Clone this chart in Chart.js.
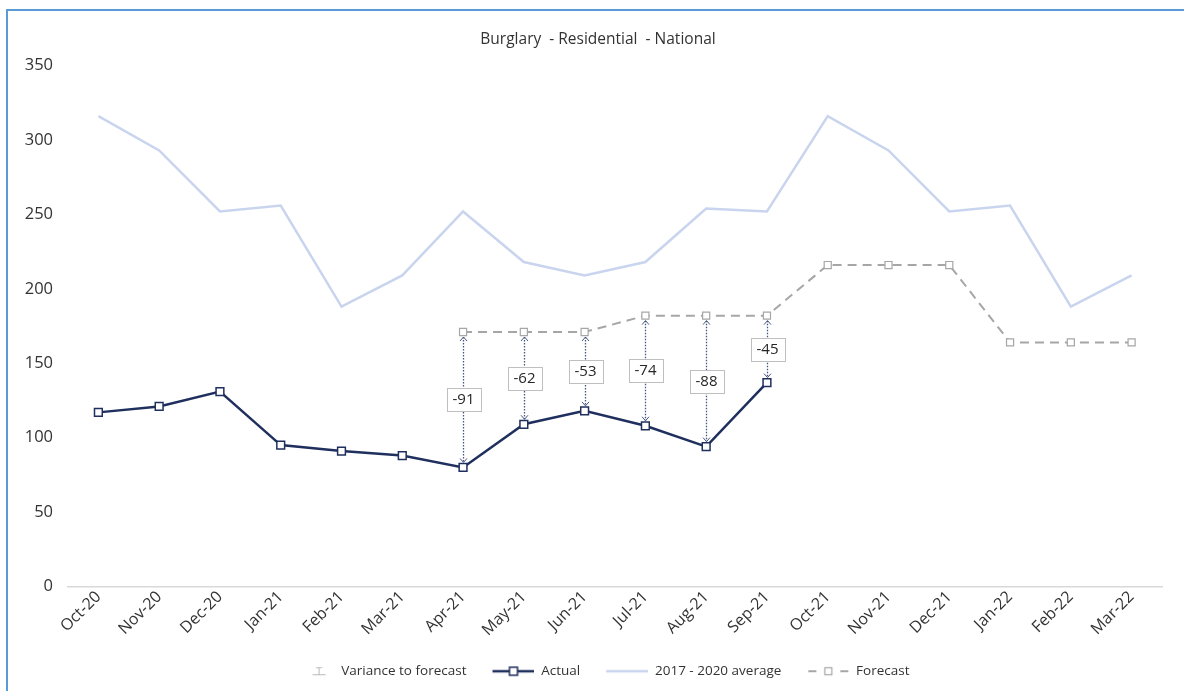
<!DOCTYPE html>
<html>
<head>
<meta charset="utf-8">
<script src="https://cdn.jsdelivr.net/npm/chart.js@4.4.0/dist/chart.umd.min.js"></script>
<style>
  html, body { margin: 0; padding: 0; background: #ffffff; }
  #wrap { position: relative; width: 1184px; height: 691px; overflow: hidden; }
  #frame { position: absolute; left: 6px; top: 9px; right: -4px; bottom: -4px;
           border-left: 2px solid #5b9bd5; border-top: 2px solid #5b9bd5; pointer-events: none; }
  canvas { position: absolute; left: 0; top: 0; }
</style>
</head>
<body>
<div id="wrap">
  <canvas id="c" width="1184" height="691"></canvas>
  <div id="frame"></div>
</div>
<script>
// ---- data ----
const titleText = 'Burglary  - Residential  - National';
const categories = ['Oct-20','Nov-20','Dec-20','Jan-21','Feb-21','Mar-21','Apr-21','May-21','Jun-21',
  'Jul-21','Aug-21','Sep-21','Oct-21','Nov-21','Dec-21','Jan-22','Feb-22','Mar-22'];
const actual   = [117, 121, 131, 95, 91, 88, 80, 109, 118, 108, 94, 137, null, null, null, null, null, null];
const average  = [316, 293, 252, 256, 188, 209, 252, 218, 209, 218, 254, 252, 316, 293, 252, 256, 188, 209];
const forecast = [null, null, null, null, null, null, 171, 171, 171, 182, 182, 182, 216, 216, 216, 164, 164, 164];
const variance = [null, null, null, null, null, null, -91, -62, -53, -74, -88, -45, null, null, null, null, null, null];
const yTicks = [0, 50, 100, 150, 200, 250, 300, 350];
const legendNames = ['Variance to forecast', 'Actual', '2017 - 2020 average', 'Forecast'];

// ---- styles ----
const NAVY = '#1f2f5e';
const AVG = '#c9d4ee';
const GREY = '#a6a6a6';
const VAR = '#44567f';
const TXT = '#333333';
const FONT = "'Open Sans', 'Noto Sans', sans-serif";
const IW = 60; // legend icon width

function icon(draw) {
  const c = document.createElement('canvas');
  c.width = IW; c.height = 14;
  const g = c.getContext('2d');
  g.translate(IW - 58, 0);
  draw(g);
  return c;
}
const iconVariance = icon(g => {
  g.strokeStyle = '#b8b8b8'; g.lineWidth = 1;
  g.beginPath();
  g.moveTo(42.5, 3); g.lineTo(42.5, 11);
  g.moveTo(39.5, 3.5); g.lineTo(45.5, 3.5);
  g.moveTo(36, 10.5); g.lineTo(49, 10.5);
  g.stroke();
});
const iconActual = icon(g => {
  g.strokeStyle = NAVY; g.lineWidth = 2.5;
  g.beginPath(); g.moveTo(16, 7); g.lineTo(58, 7); g.stroke();
  g.fillStyle = '#fff'; g.lineWidth = 1.5;
  g.fillRect(33, 3, 8, 8); g.strokeRect(33, 3, 8, 8);
});
const iconAvg = icon(g => {
  g.strokeStyle = AVG; g.lineWidth = 2.5;
  g.beginPath(); g.moveTo(16, 7); g.lineTo(58, 7); g.stroke();
});
const iconForecast = icon(g => {
  g.strokeStyle = GREY; g.lineWidth = 2;
  g.beginPath(); g.moveTo(17, 7); g.lineTo(25, 7); g.moveTo(49, 7); g.lineTo(57, 7); g.stroke();
  g.fillStyle = '#fff'; g.lineWidth = 1.2;
  g.fillRect(33.5, 3.5, 7, 7); g.strokeRect(33.5, 3.5, 7, 7);
});
const legendIcons = [iconVariance, iconActual, iconAvg, iconForecast];

const boxShift = {
  id: 'boxShift',
  afterLayout(chart) {
    if (chart.legend) { chart.legend.left += 11; chart.legend.right += 11; }
    if (chart.titleBlock) { chart.titleBlock.left += 17; chart.titleBlock.right += 17; }
  }
};

const variancePlugin = {
  id: 'variance',
  afterDatasetsDraw(chart) {
    const { ctx, scales: { x, y } } = chart;
    ctx.save();
    variance.forEach((v, i) => {
      if (v === null || actual[i] === null || forecast[i] === null) return;
      const px = Math.round(x.getPixelForValue(i)) + 0.5;
      const ya = y.getPixelForValue(actual[i]);
      const yf = y.getPixelForValue(forecast[i]);
      const top = yf + 5, bot = ya - 5;
      ctx.strokeStyle = VAR; ctx.lineWidth = 1.3;
      ctx.setLineDash([1.5, 1.5]);
      ctx.beginPath(); ctx.moveTo(px, top); ctx.lineTo(px, bot); ctx.stroke();
      ctx.setLineDash([]);
      ctx.lineWidth = 1;
      ctx.beginPath();
      ctx.moveTo(px - 3.5, top + 4); ctx.lineTo(px, top); ctx.lineTo(px + 3.5, top + 4);
      ctx.moveTo(px - 3.5, bot - 4); ctx.lineTo(px, bot); ctx.lineTo(px + 3.5, bot - 4);
      ctx.stroke();
      // label
      const mid = (ya + yf) / 2;
      const txt = String(v);
      ctx.font = "15px " + FONT;
      const w = Math.round(ctx.measureText(txt).width) + 12;
      const h = 23;
      const bx = Math.round(px - w / 2) + 0.5, by = Math.round(mid - h / 2) + 0.5;
      ctx.fillStyle = '#ffffff';
      ctx.fillRect(bx, by, w, h);
      ctx.strokeStyle = '#bfbfbf'; ctx.lineWidth = 1;
      ctx.strokeRect(bx, by, w, h);
      ctx.fillStyle = '#262626';
      ctx.textAlign = 'center'; ctx.textBaseline = 'middle';
      ctx.fillText(txt, px, mid + 0.5);
    });
    ctx.restore();
  }
};

new Chart(document.getElementById('c'), {
  type: 'line',
  data: {
    labels: categories,
    datasets: [
      { label: legendNames[1], data: actual, borderColor: NAVY, borderWidth: 2.5,
        pointStyle: 'rect', pointRadius: 5.5, pointBorderWidth: 1.5,
        pointBackgroundColor: '#ffffff', pointBorderColor: NAVY, order: 1, tension: 0 },
      { label: legendNames[3], data: forecast, borderColor: GREY, borderWidth: 2, borderDash: [9, 6],
        pointStyle: 'rect', pointRadius: 5, pointBorderWidth: 1.2,
        pointBackgroundColor: '#ffffff', pointBorderColor: GREY, order: 2, tension: 0 },
      { label: legendNames[2], data: average, borderColor: AVG, borderWidth: 2.5,
        pointRadius: 0, order: 3, tension: 0 }
    ]
  },
  options: {
    responsive: false,
    animation: false,
    devicePixelRatio: 1,
    layout: { padding: { left: 0, right: 22, top: 10, bottom: 3 } },
    plugins: {
      tooltip: { enabled: false },
      title: {
        display: true, text: titleText, color: TXT,
        font: { family: FONT, size: 15.5, weight: 'normal' }, padding: { top: 20, bottom: 17 }
      },
      legend: {
        position: 'bottom',
        labels: {
          usePointStyle: true, pointStyleWidth: IW, padding: 8,
          color: TXT, font: { family: FONT, size: 13.5 },
          generateLabels: () => legendNames.map((n, i) => ({
            text: n, pointStyle: legendIcons[i], fontColor: TXT,
            fillStyle: 'transparent', strokeStyle: 'transparent', lineWidth: 0, hidden: false, datasetIndex: i
          }))
        },
        onClick: () => {}
      }
    },
    scales: {
      x: {
        offset: true,
        grid: { display: false, drawTicks: false },
        border: { display: true, color: '#d9d9d9', width: 1.5 },
        ticks: { color: TXT, font: { family: FONT, size: 16 }, minRotation: 45, maxRotation: 45, padding: 1, autoSkip: false },
        afterFit: s => { s.height = 70; }
      },
      y: {
        min: 0, max: 350,
        afterBuildTicks: s => { s.ticks = yTicks.map(v => ({ value: v })); },
        grid: { display: false, drawTicks: false },
        border: { display: false },
        ticks: { color: TXT, font: { family: FONT, size: 16.5 }, padding: 15 },
        afterFit: s => { s.width = 68; }
      }
    }
  },
  plugins: [variancePlugin, boxShift]
});
</script>
</body>
</html>
